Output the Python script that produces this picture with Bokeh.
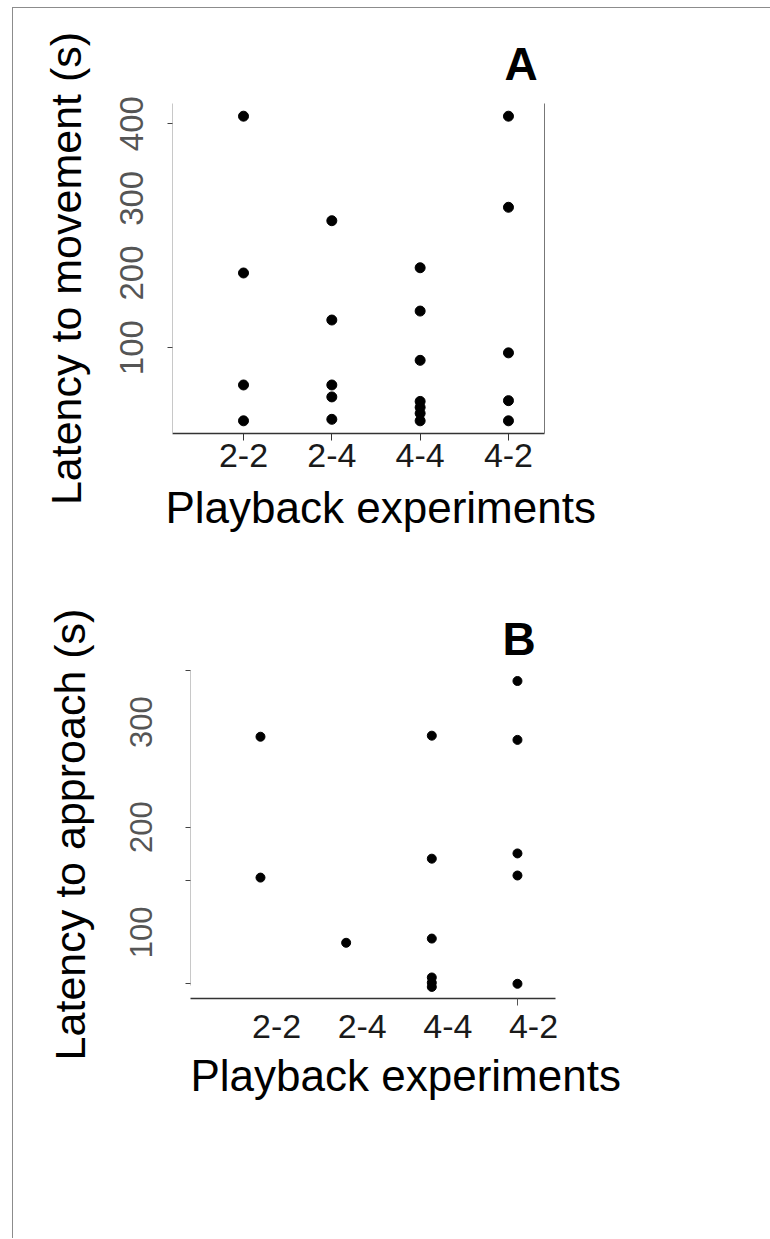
from bokeh.plotting import figure
from bokeh.models import Range1d, FixedTicker, LinearAxis, Title
from bokeh.layouts import column
from bokeh.embed import file_html
from bokeh.resources import INLINE

# ---------------- data ----------------
categories = ["2-2", "2-4", "4-4", "4-2"]

# Panel A: latency to movement (s)
move_22 = [410, 200, 50, 2]
move_24 = [270, 137, 50, 34, 4]
move_44 = [207, 149, 83, 28, 20, 12, 2]
move_42 = [410, 288, 93, 29, 2]

# Panel B: latency to approach (s)
appr_22 = [286, 152]
appr_24 = [90]
appr_44 = [287, 170, 94, 57, 52, 48]
appr_42 = [339, 283, 175, 154, 51]

move_ticks = [100, 200, 300, 400]
appr_ticks = [100, 200, 300]

FONT = "Liberation Sans"


def flatten(groups):
    xs, ys = [], []
    for cat, vals in zip(categories, groups):
        pos = categories.index(cat) + 1
        xs += [pos] * len(vals)
        ys += vals
    return xs, ys


def style_common(p):
    p.xgrid.visible = False
    p.ygrid.visible = False
    p.outline_line_color = None
    p.background_fill_color = "white"
    p.border_fill_color = "white"


# ---------------- panel A ----------------
pA = figure(frame_width=372, frame_height=330,
            min_border_left=159, min_border_right=226,
            min_border_top=95, min_border_bottom=127,
            x_range=Range1d(0.196, 4.408), y_range=Range1d(-15, 427),
            output_backend="svg", toolbar_location=None)
style_common(pA)
xa, ya = flatten([move_22, move_24, move_44, move_42])
pA.scatter(xa, ya, size=10, color="black")

xax = pA.xaxis[0]
xax.ticker = FixedTicker(ticks=[1, 2, 3, 4], minor_ticks=[])
xax.major_label_overrides = {i + 1: c for i, c in enumerate(categories)}
xax.axis_line_color = "#333333"
xax.axis_line_width = 1.5
xax.major_tick_line_color = "#333333"
xax.major_tick_out = 7
xax.major_tick_in = 0
xax.minor_tick_line_color = None
xax.major_label_text_font = FONT
xax.major_label_text_font_size = "34px"
xax.major_label_text_color = "#1a1a1a"
xax.major_label_standoff = 3

yax = pA.yaxis[0]
yax.ticker = FixedTicker(ticks=move_ticks, minor_ticks=[100, 400])
yax.axis_line_color = "#c8c8c8"
yax.major_tick_line_color = None
yax.minor_tick_line_color = "#444444"
yax.minor_tick_out = 5
yax.minor_tick_in = 0
yax.major_label_orientation = "vertical"
yax.major_label_text_font = FONT
yax.major_label_text_font_size = "33px"
yax.major_label_text_color = "#555555"
yax.major_label_standoff = 23
yax.axis_label = "Latency to movement (s)"
yax.axis_label_text_font = FONT
yax.axis_label_text_font_size = "43px"
yax.axis_label_text_font_style = "normal"
yax.axis_label_text_color = "black"
yax.axis_label_standoff = 28

rA = LinearAxis(ticker=FixedTicker(ticks=[]), axis_line_color="#777777",
                major_tick_line_color=None, minor_tick_line_color=None,
                major_label_text_font_size="0px")
pA.add_layout(rA, "right")

pA.add_layout(Title(text="A", align="left", offset=332, standoff=28,
                    text_font=FONT, text_font_size="46px",
                    text_font_style="bold", text_color="black"), "above")
pA.add_layout(Title(text="Playback experiments", align="left", offset=-7,
                    standoff=22, text_font=FONT, text_font_size="44px",
                    text_font_style="normal", text_color="black"), "below")

# ---------------- panel B ----------------
pB = figure(frame_width=365, frame_height=328,
            min_border_left=159, min_border_right=215,
            min_border_top=110, min_border_bottom=240,
            x_range=Range1d(0.183, 4.444), y_range=Range1d(37, 349),
            output_backend="svg", toolbar_location=None)
pB.margin = (0, 0, 0, 18)
style_common(pB)
xb, yb = flatten([appr_22, appr_24, appr_44, appr_42])
pB.scatter(xb, yb, size=9, color="black")

LABEL_SHIFT = 0.1875
bx = pB.xaxis[0]
bx.ticker = FixedTicker(ticks=[i + 1 + LABEL_SHIFT for i in range(4)], minor_ticks=[4])
bx.major_label_overrides = {i + 1 + LABEL_SHIFT: c for i, c in enumerate(categories)}
bx.axis_line_color = "#333333"
bx.axis_line_width = 1.5
bx.major_tick_line_color = None
bx.minor_tick_line_color = "#555555"
bx.minor_tick_out = 7
bx.minor_tick_in = 0
bx.major_label_text_font = FONT
bx.major_label_text_font_size = "34px"
bx.major_label_text_color = "#1a1a1a"
bx.major_label_standoff = 9

by = pB.yaxis[0]
by.ticker = FixedTicker(ticks=appr_ticks, minor_ticks=[51, 149, 200, 349])
by.bounds = (49, 349)
by.axis_line_color = "#c8c8c8"
by.major_tick_line_color = None
by.minor_tick_line_color = "#444444"
by.minor_tick_out = 5
by.minor_tick_in = 0
by.major_label_orientation = "vertical"
by.major_label_text_font = FONT
by.major_label_text_font_size = "31px"
by.major_label_text_color = "#555555"
by.major_label_standoff = 32
by.axis_label = "Latency to approach (s)"
by.axis_label_text_font = FONT
by.axis_label_text_font_size = "43px"
by.axis_label_text_font_style = "normal"
by.axis_label_text_color = "black"
by.axis_label_standoff = 34

pB.add_layout(Title(text="B", align="left", offset=312, standoff=12,
                    text_font=FONT, text_font_size="46px",
                    text_font_style="bold", text_color="black"), "above")
pB.add_layout(Title(text="Playback experiments", align="left", offset=0,
                    standoff=16, text_font=FONT, text_font_size="44px",
                    text_font_style="normal", text_color="black"), "below")

layout = column(pA, pB, spacing=0, margin=(7, 0, 0, 12),
                styles={"border-top": "1px solid #8c8c8c",
                        "border-left": "1px solid #8c8c8c"})

open("out.html", "w").write(file_html(layout, INLINE))
